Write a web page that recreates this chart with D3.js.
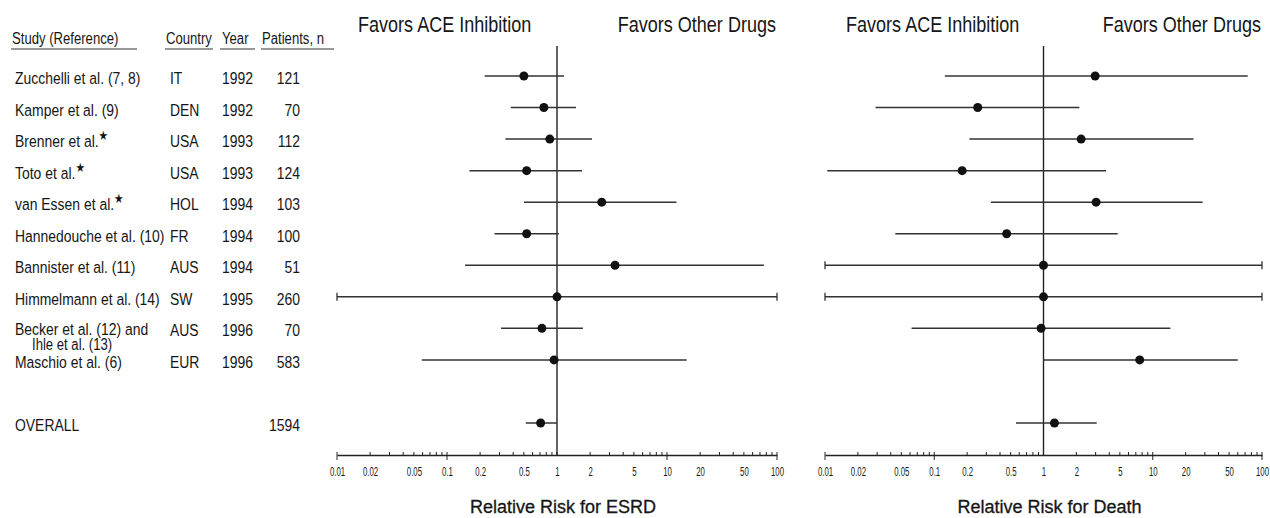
<!DOCTYPE html>
<html>
<head>
<meta charset="utf-8">
<script src="https://cdn.jsdelivr.net/npm/d3@7"></script>
<style>
body { margin: 0; background: #fff; }
text { fill: #161616; }
</style>
</head>
<body>
<script>
// table columns
var studies = ["Zucchelli et al. (7, 8)", "Kamper et al. (9)", "Brenner et al.", "Toto et al.", "van Essen et al.",
    "Hannedouche et al. (10)", "Bannister et al. (11)", "Himmelmann et al. (14)", "Becker et al. (12) and|Ihle et al. (13)",
    "Maschio et al. (6)", "OVERALL"];
var starred = [false, false, true, true, true, false, false, false, false, false, false];
var countries = ["IT", "DEN", "USA", "USA", "HOL", "FR", "AUS", "SW", "AUS", "EUR", ""];
var years = ["1992", "1992", "1993", "1993", "1994", "1994", "1994", "1995", "1996", "1996", ""];
var patients = [121, 70, 112, 124, 103, 100, 51, 260, 70, 583, 1594];
var rowIndex = [0, 1, 2, 3, 4, 5, 6, 7, 8, 9, 11];

// relative risk for ESRD (estimate, lower, upper)
var esrdRR = [0.50, 0.76, 0.86, 0.53, 2.55, 0.53, 3.37, 1.0, 0.73, 0.94, 0.71];
var esrdLo = [0.22, 0.38, 0.34, 0.16, 0.50, 0.27, 0.146, 0.01, 0.31, 0.059, 0.52];
var esrdHi = [1.16, 1.49, 2.08, 1.69, 12.2, 1.04, 76, 100, 1.72, 15.1, 1.0];

// relative risk for death
var deathRR = [2.97, 0.25, 2.21, 0.18, 3.03, 0.46, 1.0, 1.0, 0.95, 7.6, 1.26];
var deathLo = [0.125, 0.029, 0.21, 0.0105, 0.33, 0.044, 0.01, 0.01, 0.062, 1.0, 0.56];
var deathHi = [74, 2.13, 23.6, 3.74, 28.6, 4.78, 100, 100, 14.5, 60, 3.07];

var tickLabels = ["0.01", "0.02", "0.05", "0.1", "0.2", "0.5", "1", "2", "5", "10", "20", "50", "100"];
var tickVals = tickLabels.map(Number);

var svg = d3.select('body').append('svg')
    .attr('width', 1270)
    .attr('height', 518);

var sans = '"Liberation Sans", Arial, sans-serif';
var squeeze = 0.82;   // no narrow face installed, so squash Liberation Sans

// text squashed horizontally, like the condensed face in the original
function ntext(parent, x, y, size, str, anchor) {
    return parent.append('text')
        .attr('transform', 'translate(' + x + ',' + y + ') scale(' + squeeze + ',1)')
        .attr('font-family', sans)
        .attr('font-size', size)
        .attr('text-anchor', anchor || 'start')
        .text(str);
}

var y = d3.scaleLinear().domain([0, 11]).range([76, 423]);

/* table */
var heads = [
    {t: "Study (Reference)", x: 12, u0: 11, u1: 137},
    {t: "Country", x: 166, u0: 165, u1: 213},
    {t: "Year", x: 222, u0: 220, u1: 255},
    {t: "Patients, n", x: 262, u0: 261, u1: 334}
];
heads.forEach(function(d){
    ntext(svg, d.x, 44, 16, d.t);
});
svg.selectAll('line.under')
    .data(heads)
    .enter()
    .append('line')
    .attr('class', 'under')
    .attr('x1', function(d){ return d.u0; })
    .attr('x2', function(d){ return d.u1; })
    .attr('y1', 49)
    .attr('y2', 49)
    .attr('stroke', '#333')
    .attr('stroke-width', 1.2);

var rows = svg.selectAll('g.row')
    .data(studies)
    .enter()
    .append('g')
    .attr('class', 'row')
    .attr('transform', function(d, i){ return 'translate(0,' + (y(rowIndex[i]) + 8) + ')'; });

rows.each(function(d, i){
    var g = d3.select(this);
    var parts = d.split('|');
    // two-line entry sits a touch higher
    var dy = parts[1] ? -1 : 0;
    var t = ntext(g, 15, dy, 17, parts[0]);
    if (starred[i]) {
        t.append('tspan').attr('font-family', '"DejaVu Sans"').attr('font-size', 13).attr('dy', -7).text('\u2605');
    }
    if (parts[1]) {
        ntext(g, 32, 14, 16, parts[1]);
    }
    ntext(g, 170, 0, 17, countries[i]);
    ntext(g, 222, 0, 17, years[i]);
    ntext(g, 300, 0, 17, patients[i], 'end');
});

/* forest panels */
function panel(x0, x1, rr, lo, hi, title) {
    var x = d3.scaleLog().domain([0.01, 100]).range([x0, x1]);
    var axisY = 455;
    var g = svg.append('g');

    ntext(g, x0 + 21, 32, 22, 'Favors ACE Inhibition');
    ntext(g, x1 - 1, 32, 22, 'Favors Other Drugs', 'end');

    // line of no effect
    g.append('line')
        .attr('x1', x(1)).attr('x2', x(1))
        .attr('y1', 46).attr('y2', axisY)
        .attr('stroke', '#222')
        .attr('stroke-width', 1.4);

    // axis
    var ax = g.append('g')
        .attr('transform', 'translate(0,' + axisY + ')')
        .call(d3.axisBottom(x)
            .tickValues(tickVals)
            .tickFormat(function(d, i){ return tickLabels[i]; })
            .tickSize(0)
            .tickPadding(12));
    ax.select('.domain').attr('stroke', '#222').attr('stroke-width', 1.4);
    ax.selectAll('text')
        .attr('font-family', sans)
        .attr('font-size', 12)
        .attr('transform', 'scale(0.65,1)')
        .attr('fill', '#161616');

    g.selectAll('line.minor')
        .data(x.ticks())
        .enter()
        .append('line')
        .attr('class', 'minor')
        .attr('x1', function(d){ return x(d); })
        .attr('x2', function(d){ return x(d); })
        .attr('y1', axisY - 3)
        .attr('y2', function(d){ return [0.01, 0.1, 10, 100].indexOf(d) >= 0 ? axisY + 5 : axisY; })
        .attr('stroke', '#222')
        .attr('stroke-width', 1);

    g.append('text')
        .attr('x', x(1) + 6)
        .attr('y', 513)
        .attr('text-anchor', 'middle')
        .attr('font-family', sans)
        .attr('font-size', 18)
        .attr('stroke', '#161616')
        .attr('stroke-width', 0.3)
        .text(title);

    // CI lines
    g.selectAll('line.ci')
        .data(rr)
        .enter()
        .append('line')
        .attr('class', 'ci')
        .attr('x1', function(d, i){ return x(lo[i]); })
        .attr('x2', function(d, i){ return x(hi[i]); })
        .attr('y1', function(d, i){ return y(rowIndex[i]); })
        .attr('y2', function(d, i){ return y(rowIndex[i]); })
        .attr('stroke', '#333')
        .attr('stroke-width', 1.5);

    // end caps where the interval runs off the scale
    rr.forEach(function(d, i){
        [lo[i], hi[i]].forEach(function(v){
            if (v <= 0.01 || v >= 100) {
                g.append('line')
                    .attr('x1', x(v)).attr('x2', x(v))
                    .attr('y1', y(rowIndex[i]) - 4).attr('y2', y(rowIndex[i]) + 4)
                    .attr('stroke', '#333')
                    .attr('stroke-width', 1.3);
            }
        });
    });

    g.selectAll('circle')
        .data(rr)
        .enter()
        .append('circle')
        .attr('cx', function(d){ return x(d); })
        .attr('cy', function(d, i){ return y(rowIndex[i]); })
        .attr('r', 4.5)
        .attr('fill', '#111');
}

panel(337, 777, esrdRR, esrdLo, esrdHi, 'Relative Risk for ESRD');
panel(825, 1262, deathRR, deathLo, deathHi, 'Relative Risk for Death');
</script>
</body>
</html>
